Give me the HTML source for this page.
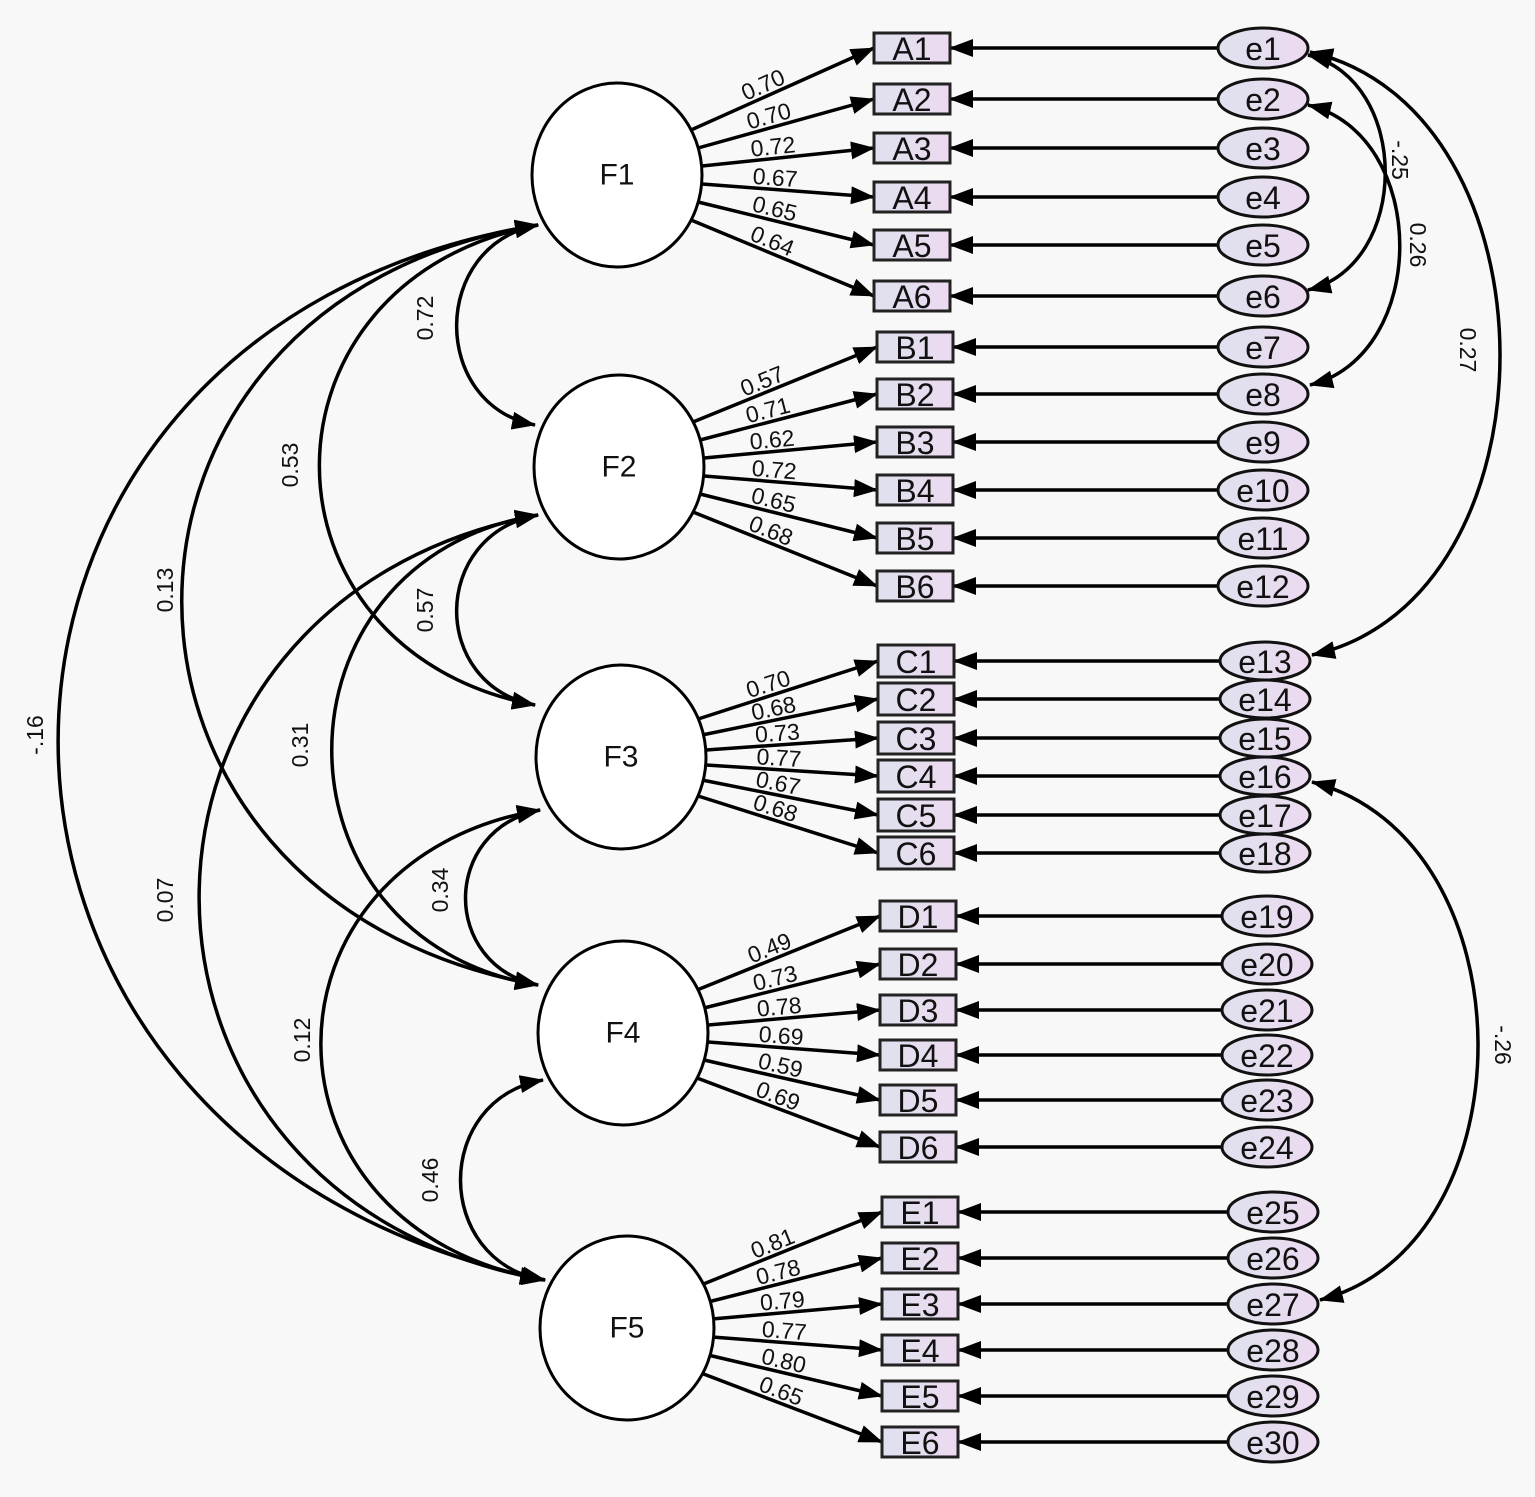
<!DOCTYPE html>
<html><head><meta charset="utf-8"><style>
html,body{margin:0;padding:0;background:#f8f8f8}
svg{display:block}
text{font-family:"Liberation Sans",Arial,sans-serif;fill:#111}
</style></head><body>
<svg width="1535" height="1497" viewBox="0 0 1535 1497" xmlns="http://www.w3.org/2000/svg">
<defs>
<marker id="ar" markerUnits="userSpaceOnUse" markerWidth="24" markerHeight="18" refX="23" refY="9" orient="auto-start-reverse">
<path d="M0,0 L24,9 L0,18 z" fill="#000"/></marker>
<linearGradient id="g" x1="0" x2="1" y1="0" y2="0"><stop offset="0" stop-color="#dfe1ee"/><stop offset="1" stop-color="#ecdaf0"/></linearGradient>
</defs>
<rect width="1535" height="1497" fill="#f8f8f8"/>
<g fill="none" stroke="#000" stroke-width="3.5" marker-start="url(#ar)" marker-end="url(#ar)">
<path d="M535,425 C430,405 430,245 538,225"/>
<path d="M535,705 C247,650 247,280 538,225"/>
<path d="M538,985 C63,900 63,300 538,225"/>
<path d="M545,1280 C-103,1150 -103,330 538,225"/>
<path d="M535,705 C430,685 430,535 538,515"/>
<path d="M538,985 C263,940 263,560 538,515"/>
<path d="M545,1280 C85,1200 85,600 538,515"/>
<path d="M538,985 C441,965 441,830 540,810"/>
<path d="M545,1280 C247,1230 247,860 540,810"/>
<path d="M543,1280 C433,1260 433,1100 543,1080"/>
<path d="M1308,55 C1411,80 1411,265 1308,290"/>
<path d="M1308,105 C1430,135 1430,355 1310,385"/>
<path d="M1310,52 C1563,110 1563,600 1312,655"/>
<path d="M1312,782 C1532,840 1532,1245 1320,1300"/>
</g>
<g font-size="23" text-anchor="middle" dominant-baseline="central">
<text transform="translate(425,318) rotate(-90)">0.72</text>
<text transform="translate(290,465) rotate(-90)">0.53</text>
<text transform="translate(165,590) rotate(-90)">0.13</text>
<text transform="translate(35,735) rotate(-90)">-.16</text>
<text transform="translate(425,610) rotate(-90)">0.57</text>
<text transform="translate(300,745) rotate(-90)">0.31</text>
<text transform="translate(165,900) rotate(-90)">0.07</text>
<text transform="translate(440,890) rotate(-90)">0.34</text>
<text transform="translate(302,1040) rotate(-90)">0.12</text>
<text transform="translate(430,1180) rotate(-90)">0.46</text>
<text transform="translate(1400,160) rotate(90)">-.25</text>
<text transform="translate(1418,245) rotate(90)">0.26</text>
<text transform="translate(1468,350) rotate(90)">0.27</text>
<text transform="translate(1503,1045) rotate(90)">-.26</text>
</g>
<g fill="none" stroke="#000" stroke-width="3.5" marker-end="url(#ar)">
<path id="a1" d="M691,130 L874,48"/><path id="a2" d="M698,148 L874,99"/><path id="a3" d="M702,166 L874,148"/><path id="a4" d="M702,184 L874,197"/><path id="a5" d="M698,202 L874,245"/><path id="a6" d="M691,220 L874,296"/>
<path id="b1" d="M693,422 L877,347"/><path id="b2" d="M700,440 L877,394"/><path id="b3" d="M704,458 L877,442"/><path id="b4" d="M704,476 L877,490"/><path id="b5" d="M700,494 L877,538"/><path id="b6" d="M693,512 L877,586"/>
<path id="c1" d="M695,720 L878,661"/><path id="c2" d="M702,735 L878,699"/><path id="c3" d="M706,750 L878,738"/><path id="c4" d="M706,765 L878,776"/><path id="c5" d="M702,780 L878,815"/><path id="c6" d="M695,795 L878,853"/>
<path id="d1" d="M697,990 L880,916"/><path id="d2" d="M704,1008 L880,964"/><path id="d3" d="M708,1025 L880,1010"/><path id="d4" d="M708,1042 L880,1055"/><path id="d5" d="M704,1060 L880,1100"/><path id="d6" d="M697,1078 L880,1147"/>
<path id="f1" d="M701,1285 L882,1212"/><path id="f2" d="M708,1302 L882,1258"/><path id="f3" d="M712,1319 L882,1304"/><path id="f4" d="M712,1337 L882,1350"/><path id="f5" d="M708,1355 L882,1396"/><path id="f6" d="M701,1373 L882,1442"/>
</g>
<g font-size="23" text-anchor="middle">
<text dy="-4"><textPath href="#a1" startOffset="42%">0.70</textPath></text>
<text dy="-4"><textPath href="#a2" startOffset="42%">0.70</textPath></text>
<text dy="-4"><textPath href="#a3" startOffset="42%">0.72</textPath></text>
<text dy="-4"><textPath href="#a4" startOffset="42%">0.67</textPath></text>
<text dy="-4"><textPath href="#a5" startOffset="42%">0.65</textPath></text>
<text dy="-4"><textPath href="#a6" startOffset="42%">0.64</textPath></text>
<text dy="-4"><textPath href="#b1" startOffset="40%">0.57</textPath></text>
<text dy="-4"><textPath href="#b2" startOffset="40%">0.71</textPath></text>
<text dy="-4"><textPath href="#b3" startOffset="40%">0.62</textPath></text>
<text dy="-4"><textPath href="#b4" startOffset="40%">0.72</textPath></text>
<text dy="-4"><textPath href="#b5" startOffset="40%">0.65</textPath></text>
<text dy="-4"><textPath href="#b6" startOffset="40%">0.68</textPath></text>
<text dy="-4"><textPath href="#c1" startOffset="42%">0.70</textPath></text>
<text dy="-4"><textPath href="#c2" startOffset="42%">0.68</textPath></text>
<text dy="-4"><textPath href="#c3" startOffset="42%">0.73</textPath></text>
<text dy="-4"><textPath href="#c4" startOffset="42%">0.77</textPath></text>
<text dy="-4"><textPath href="#c5" startOffset="42%">0.67</textPath></text>
<text dy="-4"><textPath href="#c6" startOffset="42%">0.68</textPath></text>
<text dy="-4"><textPath href="#d1" startOffset="42%">0.49</textPath></text>
<text dy="-4"><textPath href="#d2" startOffset="42%">0.73</textPath></text>
<text dy="-4"><textPath href="#d3" startOffset="42%">0.78</textPath></text>
<text dy="-4"><textPath href="#d4" startOffset="42%">0.69</textPath></text>
<text dy="-4"><textPath href="#d5" startOffset="42%">0.59</textPath></text>
<text dy="-4"><textPath href="#d6" startOffset="42%">0.69</textPath></text>
<text dy="-4"><textPath href="#f1" startOffset="42%">0.81</textPath></text>
<text dy="-4"><textPath href="#f2" startOffset="42%">0.78</textPath></text>
<text dy="-4"><textPath href="#f3" startOffset="42%">0.79</textPath></text>
<text dy="-4"><textPath href="#f4" startOffset="42%">0.77</textPath></text>
<text dy="-4"><textPath href="#f5" startOffset="42%">0.80</textPath></text>
<text dy="-4"><textPath href="#f6" startOffset="42%">0.65</textPath></text>
</g>
<g fill="#fff" stroke="#000" stroke-width="3">
<ellipse cx="617" cy="175" rx="85" ry="92"/>
<ellipse cx="619" cy="467" rx="85" ry="92"/>
<ellipse cx="621" cy="757" rx="85" ry="92"/>
<ellipse cx="623" cy="1033" rx="85" ry="92"/>
<ellipse cx="627" cy="1328" rx="87" ry="92"/>
</g>
<g font-size="30" text-anchor="middle" dominant-baseline="central">
<text x="617" y="175">F1</text><text x="619" y="467">F2</text><text x="621" y="757">F3</text><text x="623" y="1033">F4</text><text x="627" y="1328">F5</text>
</g>
<g stroke="#000" stroke-width="3.5" marker-end="url(#ar)">
<line x1="1218" y1="48" x2="950" y2="48"/><line x1="1218" y1="99" x2="950" y2="99"/><line x1="1218" y1="148" x2="950" y2="148"/><line x1="1218" y1="197" x2="950" y2="197"/><line x1="1218" y1="245" x2="950" y2="245"/><line x1="1218" y1="296" x2="950" y2="296"/>
<line x1="1218" y1="347" x2="953" y2="347"/><line x1="1218" y1="394" x2="953" y2="394"/><line x1="1218" y1="442" x2="953" y2="442"/><line x1="1218" y1="490" x2="953" y2="490"/><line x1="1218" y1="538" x2="953" y2="538"/><line x1="1218" y1="586" x2="953" y2="586"/>
<line x1="1220" y1="661" x2="954" y2="661"/><line x1="1220" y1="699" x2="954" y2="699"/><line x1="1220" y1="738" x2="954" y2="738"/><line x1="1220" y1="776" x2="954" y2="776"/><line x1="1220" y1="815" x2="954" y2="815"/><line x1="1220" y1="853" x2="954" y2="853"/>
<line x1="1222" y1="916" x2="956" y2="916"/><line x1="1222" y1="964" x2="956" y2="964"/><line x1="1222" y1="1010" x2="956" y2="1010"/><line x1="1222" y1="1055" x2="956" y2="1055"/><line x1="1222" y1="1100" x2="956" y2="1100"/><line x1="1222" y1="1147" x2="956" y2="1147"/>
<line x1="1228" y1="1212" x2="958" y2="1212"/><line x1="1228" y1="1258" x2="958" y2="1258"/><line x1="1228" y1="1304" x2="958" y2="1304"/><line x1="1228" y1="1350" x2="958" y2="1350"/><line x1="1228" y1="1396" x2="958" y2="1396"/><line x1="1228" y1="1442" x2="958" y2="1442"/>
</g>
<g fill="url(#g)" stroke="#222" stroke-width="3">
<rect x="874" y="33" width="76" height="30"/><rect x="874" y="84" width="76" height="30"/><rect x="874" y="133" width="76" height="30"/><rect x="874" y="182" width="76" height="30"/><rect x="874" y="230" width="76" height="30"/><rect x="874" y="281" width="76" height="30"/>
<rect x="877" y="332" width="76" height="30"/><rect x="877" y="379" width="76" height="30"/><rect x="877" y="427" width="76" height="30"/><rect x="877" y="475" width="76" height="30"/><rect x="877" y="523" width="76" height="30"/><rect x="877" y="571" width="76" height="30"/>
<rect x="878" y="645" width="76" height="32"/><rect x="878" y="683" width="76" height="32"/><rect x="878" y="722" width="76" height="32"/><rect x="878" y="760" width="76" height="32"/><rect x="878" y="799" width="76" height="32"/><rect x="878" y="837" width="76" height="32"/>
<rect x="880" y="901" width="76" height="30"/><rect x="880" y="949" width="76" height="30"/><rect x="880" y="995" width="76" height="30"/><rect x="880" y="1040" width="76" height="30"/><rect x="880" y="1085" width="76" height="30"/><rect x="880" y="1132" width="76" height="30"/>
<rect x="882" y="1197" width="76" height="30"/><rect x="882" y="1243" width="76" height="30"/><rect x="882" y="1289" width="76" height="30"/><rect x="882" y="1335" width="76" height="30"/><rect x="882" y="1381" width="76" height="30"/><rect x="882" y="1427" width="76" height="30"/>
</g>
<g font-size="32" text-anchor="middle" dominant-baseline="central">
<text x="912" y="49">A1</text><text x="912" y="100">A2</text><text x="912" y="149">A3</text><text x="912" y="198">A4</text><text x="912" y="246">A5</text><text x="912" y="297">A6</text>
<text x="915" y="348">B1</text><text x="915" y="395">B2</text><text x="915" y="443">B3</text><text x="915" y="491">B4</text><text x="915" y="539">B5</text><text x="915" y="587">B6</text>
<text x="916" y="662">C1</text><text x="916" y="700">C2</text><text x="916" y="739">C3</text><text x="916" y="777">C4</text><text x="916" y="816">C5</text><text x="916" y="854">C6</text>
<text x="918" y="917">D1</text><text x="918" y="965">D2</text><text x="918" y="1011">D3</text><text x="918" y="1056">D4</text><text x="918" y="1101">D5</text><text x="918" y="1148">D6</text>
<text x="920" y="1213">E1</text><text x="920" y="1259">E2</text><text x="920" y="1305">E3</text><text x="920" y="1351">E4</text><text x="920" y="1397">E5</text><text x="920" y="1443">E6</text>
</g>
<g fill="url(#g)" stroke="#111" stroke-width="3">
<ellipse cx="1263" cy="48" rx="45" ry="20"/><ellipse cx="1263" cy="99" rx="45" ry="20"/><ellipse cx="1263" cy="148" rx="45" ry="20"/><ellipse cx="1263" cy="197" rx="45" ry="20"/><ellipse cx="1263" cy="245" rx="45" ry="20"/><ellipse cx="1263" cy="296" rx="45" ry="20"/>
<ellipse cx="1263" cy="347" rx="45" ry="20"/><ellipse cx="1263" cy="394" rx="45" ry="20"/><ellipse cx="1263" cy="442" rx="45" ry="20"/><ellipse cx="1263" cy="490" rx="45" ry="20"/><ellipse cx="1263" cy="538" rx="45" ry="20"/><ellipse cx="1263" cy="586" rx="45" ry="20"/>
<ellipse cx="1265" cy="661" rx="45" ry="19"/><ellipse cx="1265" cy="699" rx="45" ry="19"/><ellipse cx="1265" cy="738" rx="45" ry="19"/><ellipse cx="1265" cy="776" rx="45" ry="19"/><ellipse cx="1265" cy="815" rx="45" ry="19"/><ellipse cx="1265" cy="853" rx="45" ry="19"/>
<ellipse cx="1267" cy="916" rx="45" ry="20"/><ellipse cx="1267" cy="964" rx="45" ry="20"/><ellipse cx="1267" cy="1010" rx="45" ry="20"/><ellipse cx="1267" cy="1055" rx="45" ry="20"/><ellipse cx="1267" cy="1100" rx="45" ry="20"/><ellipse cx="1267" cy="1147" rx="45" ry="20"/>
<ellipse cx="1273" cy="1212" rx="45" ry="20"/><ellipse cx="1273" cy="1258" rx="45" ry="20"/><ellipse cx="1273" cy="1304" rx="45" ry="20"/><ellipse cx="1273" cy="1350" rx="45" ry="20"/><ellipse cx="1273" cy="1396" rx="45" ry="20"/><ellipse cx="1273" cy="1442" rx="45" ry="20"/>
</g>
<g font-size="32" text-anchor="middle" dominant-baseline="central">
<text x="1263" y="49">e1</text><text x="1263" y="100">e2</text><text x="1263" y="149">e3</text><text x="1263" y="198">e4</text><text x="1263" y="246">e5</text><text x="1263" y="297">e6</text>
<text x="1263" y="348">e7</text><text x="1263" y="395">e8</text><text x="1263" y="443">e9</text><text x="1263" y="491">e10</text><text x="1263" y="539">e11</text><text x="1263" y="587">e12</text>
<text x="1265" y="662">e13</text><text x="1265" y="700">e14</text><text x="1265" y="739">e15</text><text x="1265" y="777">e16</text><text x="1265" y="816">e17</text><text x="1265" y="854">e18</text>
<text x="1267" y="917">e19</text><text x="1267" y="965">e20</text><text x="1267" y="1011">e21</text><text x="1267" y="1056">e22</text><text x="1267" y="1101">e23</text><text x="1267" y="1148">e24</text>
<text x="1273" y="1213">e25</text><text x="1273" y="1259">e26</text><text x="1273" y="1305">e27</text><text x="1273" y="1351">e28</text><text x="1273" y="1397">e29</text><text x="1273" y="1443">e30</text>
</g>
</svg>
</body></html>
